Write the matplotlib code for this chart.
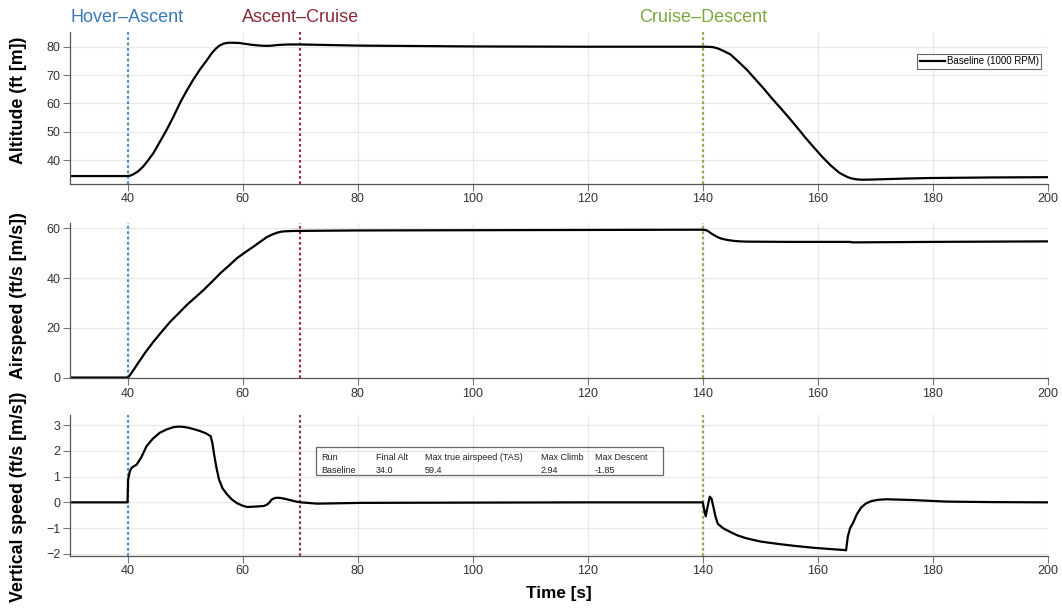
import matplotlib.pyplot as plt
import numpy as np

plt.rcParams['font.family'] = ['Liberation Sans', 'DejaVu Sans']

# phase boundaries
phase_t = [40, 70, 140]
phase_names = ['Hover\u2013Ascent', 'Ascent\u2013Cruise', 'Cruise\u2013Descent']
phase_text_col = ['#3a78b8', '#8c2a38', '#7ca842']
phase_line_col = ['#4a92cc', '#9a3445', '#95ad55']

# altitude (m)
t_alt = [30, 40, 40.4, 41, 41.8, 42.7, 43.6, 44.5, 45.6, 46.8, 48.0, 49.1, 50.2, 51.4, 52.6,
         53.8, 54.6, 55.2, 55.9, 56.7, 57.5, 58.4, 59.5, 60.5, 61.5, 62.5, 63.5, 64.2, 65.2,
         66, 68, 70, 75, 80, 100, 120, 140, 141.2, 141.9, 142.6, 143.3, 144.0, 144.8, 146.2,
         147.7, 149.1, 150.6, 152.0, 153.5, 155.0, 156.4, 157.8, 159.3, 160.7, 162.2, 163.0,
         163.7, 164.5, 165.2, 165.8, 166.5, 167.2, 167.9, 170, 175, 179.4, 190, 200]
alt = [34.4, 34.4, 34.5, 35.0, 36.0, 37.7, 40.0, 42.5, 46.4, 50.7, 55.4, 60.1, 64.2, 68.3, 72.0,
       75.3, 77.6, 79.0, 80.3, 81.1, 81.4, 81.4, 81.3, 81.0, 80.7, 80.5, 80.35, 80.3, 80.4,
       80.6, 80.8, 80.8, 80.6, 80.4, 80.1, 80.0, 80.0, 79.95, 79.8, 79.4, 78.8, 78.1, 77.3, 74.7,
       71.8, 68.6, 65.2, 61.8, 58.4, 54.9, 51.5, 48.0, 44.5, 41.3, 38.2, 36.8, 35.6, 34.7, 34.0,
       33.6, 33.3, 33.15, 33.1, 33.2, 33.5, 33.7, 33.9, 34.0]

# airspeed (m/s)
t_spd = [30, 40, 40.2, 40.8, 41.6, 43.0, 44.5, 46.0, 47.4, 48.9, 50.3, 51.8, 53.2, 54.7, 56.1,
         57.6, 59.0, 60.5, 61.9, 63.1, 64.2, 65.2, 66.0, 66.7, 67.3, 68.8,
         80, 100, 120, 140, 140.6, 141.0, 141.4, 141.8, 142.2, 142.6, 143.1, 143.6, 144.2, 144.8,
         145.4, 146.5, 147.7, 155, 165.6, 166.0, 180, 200]
spd = [0, 0, 0.3, 2.2, 5.0, 9.8, 14.4, 18.6, 22.4, 25.9, 29.2, 32.3, 35.2, 38.6, 41.9,
       45.0, 48.0, 50.5, 52.7, 54.7, 56.5, 57.6, 58.3, 58.7, 58.85, 59.0,
       59.2, 59.3, 59.4, 59.5, 59.3, 58.8, 58.1, 57.5, 57.0, 56.5, 56.0, 55.7, 55.4, 55.2,
       55.0, 54.8, 54.7, 54.6, 54.6, 54.4, 54.6, 54.8]

# vertical speed (m/s)
t_vs = [30, 40, 40.1, 40.4, 40.7, 41.1, 41.6, 42.4, 43.3, 44.4, 45.6, 46.8, 48.0, 48.9, 49.7,
        50.5, 51.2, 52.0, 52.7, 53.6, 54.45, 54.75, 55.0, 55.25, 55.5, 55.9, 56.5, 57.3, 58.2,
        59.1, 60.0, 60.8, 62.5, 63.7, 64.3, 64.7, 65.0, 65.5, 66.0, 66.6, 67.5, 68.4, 69.3,
        70.1, 73, 80.5, 100, 120, 140, 140.2, 140.5, 140.8, 141.2, 141.5, 141.8, 142.2, 142.6,
        143.5, 144.6, 146, 147.5, 150, 153.3, 156, 159.1, 162, 164.6, 164.9, 165.2, 165.6,
        166.1, 166.8, 167.5, 168.3, 169.3, 170.5, 171.9, 176.5, 182.3, 190, 200]
vs = [0, 0, 0.89, 1.20, 1.34, 1.40, 1.47, 1.75, 2.18, 2.47, 2.70, 2.83, 2.92, 2.94, 2.93,
      2.90, 2.86, 2.81, 2.76, 2.68, 2.57, 2.30, 1.93, 1.60, 1.30, 0.89, 0.55, 0.31, 0.10,
      -0.04, -0.13, -0.18, -0.16, -0.14, -0.08, 0.0, 0.10, 0.16, 0.18, 0.17, 0.13, 0.08, 0.03,
      0.0, -0.05, -0.02, -0.01, 0.0, 0.0, -0.25, -0.54, -0.2, 0.22, 0.15, -0.14, -0.55, -0.83,
      -1.0, -1.13, -1.28, -1.39, -1.52, -1.62, -1.69, -1.76, -1.81, -1.85, -1.86, -1.33, -1.0,
      -0.80, -0.45, -0.21, -0.05, 0.05, 0.10, 0.12, 0.09, 0.03, 0.01, 0.0]

# summary table
tab_head = ['Run', 'Final Alt', 'Max true airspeed (TAS)', 'Max Climb', 'Max Descent']
tab_row = ['Baseline', '34.0', '59.4', '2.94', '-1.85']
tab_x = [73.6, 83.2, 91.7, 111.8, 121.2]

W, H = 1062, 613
fig = plt.figure(figsize=(W / 100, H / 100), dpi=100)

def frac(px_top, px_bot):
    return [70 / W, 1 - px_bot / H, (1048 - 70) / W, (px_bot - px_top) / H]

ax1 = fig.add_axes(frac(31.7, 183.7))
ax2 = fig.add_axes(frac(223, 377.8))
ax3 = fig.add_axes(frac(415, 555.7))

ax1.plot(t_alt, alt, color='k', lw=1.6, label='Baseline (1000 RPM)')
ax2.plot(t_spd, spd, color='k', lw=1.6)
ax3.plot(t_vs, vs, color='k', lw=1.6)

ax1.set_ylim(31.7, 85.3)
ax1.set_yticks([40, 50, 60, 70, 80])
ax2.set_ylim(-0.1, 62.2)
ax2.set_yticks([0, 20, 40, 60])
ax3.set_ylim(-2.07, 3.39)
ax3.set_yticks([-2, -1, 0, 1, 2, 3])

labels = ['Altitude (ft [m])', 'Airspeed (ft/s [m/s])', 'Vertical speed (ft/s [m/s])']
label_y = [0.55, 0.53, 0.42]
for ax, lab, ly in zip([ax1, ax2, ax3], labels, label_y):
    ax.set_xlim(30, 200)
    ax.set_xticks([40, 60, 80, 100, 120, 140, 160, 180, 200])
    ax.grid(True, color='#e8e8e8', lw=0.9)
    ax.set_axisbelow(True)
    for s in ['top', 'right']:
        ax.spines[s].set_visible(False)
    for s in ['left', 'bottom']:
        ax.spines[s].set_color('#555555')
        ax.spines[s].set_linewidth(0.9)
    ax.tick_params(direction='out', length=5, width=0.8, color='#777777', pad=2,
                   labelsize=9, labelcolor='#333333')
    ax.set_ylabel(lab, fontsize=12.8, fontweight='bold')
    ax.yaxis.set_label_coords(-0.044, ly)
    for t, c in zip(phase_t, phase_line_col):
        ax.axvline(t, color=c, lw=1.6, ls=(0, (1.2, 1.2)), zorder=1)

for t, name, c in zip(phase_t, phase_names, phase_text_col):
    ax1.text(t, 1.04, name, transform=ax1.get_xaxis_transform(), ha='center',
             va='bottom', color=c, fontsize=13)

leg = ax1.legend(loc='upper right', bbox_to_anchor=(0.993, 0.855), fontsize=7,
                 fancybox=False, framealpha=1, edgecolor='#666666',
                 handlelength=2.6, handletextpad=0.2, borderpad=0.25, borderaxespad=0)
leg.get_frame().set_linewidth(0.8)

ax3.add_patch(plt.Rectangle((72.8, 1.05), 60.3, 1.08, fill=False, ec='#666666', lw=0.9,
                            zorder=4))
for x, h, r in zip(tab_x, tab_head, tab_row):
    ax3.text(x, 1.73, h, fontsize=6.5, va='center', color='#222222', zorder=5)
    ax3.text(x, 1.25, r, fontsize=6.5, va='center', color='#222222', zorder=5)

ax3.set_xlabel('Time [s]', fontsize=12.3, fontweight='bold', labelpad=6)

fig.savefig('out.png', dpi=100)
